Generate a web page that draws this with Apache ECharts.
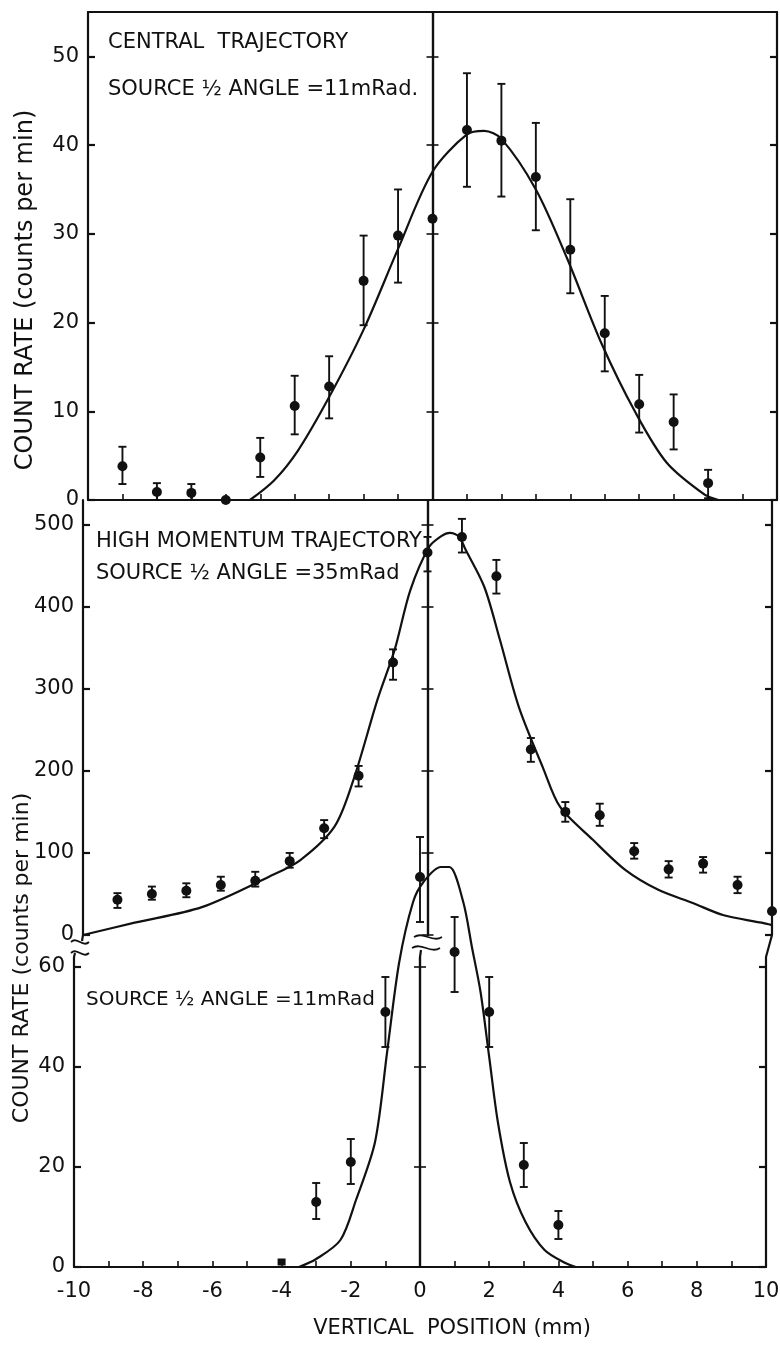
<!DOCTYPE html>
<html>
<head>
<meta charset="utf-8">
<script src="https://cdn.jsdelivr.net/npm/echarts@6/dist/echarts.min.js"></script>
<style>
  html, body { margin: 0; padding: 0; background: #fff; }
  #chart { width: 780px; height: 1349px; }
</style>
</head>
<body>
<div id="chart"></div>
<script>
// ---- tick values ----
const unitTicks = [-10,-9,-8,-7,-6,-5,-4,-3,-2,-1,0,1,2,3,4,5,6,7,8,9,10];
const positionLabels = [-10,-8,-6,-4,-2,0,2,4,6,8,10];
const centralTicks = [0,10,20,30,40,50];
const highTicks = [0,100,200,300,400,500];
const narrowTicks = [0,20,40,60];

// ---- central trajectory, source 1/2 angle 11 mRad ----
const centralX    = [-9,-8,-7,-6,-5,-4,-3,-2,-1,0,1,2,3,4,5,6,7,8];
const centralRate = [3.8,0.9,0.8,0,4.8,10.6,12.8,24.7,29.8,31.7,41.7,40.5,36.4,28.2,18.8,10.8,8.8,1.9];
const centralLow  = [1.8,0,0,null,2.6,7.4,9.2,19.7,24.5,null,35.3,34.2,30.4,23.3,14.5,7.6,5.7,0.2];
const centralHigh = [6.0,1.9,1.8,null,7.0,14.0,16.2,29.8,35.0,null,48.1,46.9,42.5,33.9,23.0,14.1,11.9,3.4];
const centralFitX = [-5.3,-4.6,-3.9,-3.0,-2.0,-1.0,0.0,1.0,1.5,2.0,3.0,3.9,4.9,5.9,6.8,7.9,8.3];
const centralFitY = [0,2.2,5.6,11.6,19.2,28.3,37.0,41.2,41.6,40.7,35.0,27.3,17.7,9.8,4.2,0.6,0];

// ---- high momentum trajectory, source 1/2 angle 35 mRad ----
const highX    = [-9,-8,-7,-6,-5,-4,-3,-2,-1,0,1,2,3,4,5,6,7,8,9,10];
const highRate = [43,50,54,61,66,90,130,194,332,466,485,437,226,150,146,102,80,87,61,29];
const highLow  = [33,43,46,54,59,82,118,181,311,443,466,416,211,138,133,93,70,76,51,null];
const highHigh = [51,59,63,71,77,100,140,206,348,485,507,457,240,162,160,112,90,95,71,null];
const highFitX = [-10,-8.5,-6.55,-4.6,-3.7,-2.7,-2.15,-1.45,-0.95,-0.5,0.05,0.4,0.65,0.92,1.1,1.65,2.1,2.65,3.35,3.85,4.8,5.75,6.7,7.7,8.6,9.7,10];
const highFitY = [0,15,34,71,91,132,189,287,348,420,473,486,490,485,470,424,360,278,204,156,116,79,55,39,24,15,12];

// ---- high momentum trajectory, source 1/2 angle 11 mRad ----
const narrowX     = [-4,-3,-2,-1,0,1,2,3,4];
const narrowRate  = [1,13,21,51,78,63,51,20.4,8.4];
const narrowLow   = [null,9.6,16.6,44,69,55,44,16,5.6];
const narrowHigh  = [null,16.8,25.6,58,86,70,58,24.8,11.2];
const narrowShape = ['rect','circle','circle','circle','circle','circle','circle','circle','circle'];
const narrowFitX  = [-3.5,-3.0,-2.3,-1.85,-1.3,-0.95,-0.6,-0.2,0.1,0.6,0.85,1.25,1.5,1.75,2.0,2.25,2.6,3.05,3.6,4.2,4.5];
const narrowFitY  = [0,1.6,5.4,13.4,25,43,61,73,77,80,80,73,64,55,42,29,17,9,3.4,0.8,0];

const INK = '#111';
const FONT = '"DejaVu Sans", "Liberation Sans", sans-serif';

const grids = [
  { left: 88, top: 12,  width: 689, height: 488 },
  { left: 83, top: 500, width: 689, height: 435 },
  { left: 74, top: 957, width: 692, height: 310 }
];
const yRanges = [[0, 55, centralTicks], [0, 530, highTicks], [0, 62, narrowTicks]];

const lineStyle = { color: INK, width: 2.2 };

// four y axes per panel: labelled left frame, right frame, and the x = 0 line (ticks both ways)
const yAxes = [];
grids.forEach((g, gi) => {
  const [mn, mx, ticks] = yRanges[gi];
  const base = {
    gridIndex: gi, type: 'value', min: mn, max: mx,
    splitLine: { show: false },
    axisLine: { show: true, onZero: false, lineStyle }
  };
  yAxes.push(Object.assign({}, base, {
    position: 'left',
    axisTick: { show: true, inside: true, length: 7, customValues: ticks, lineStyle },
    axisLabel: { show: true, customValues: ticks, margin: 9, color: INK, fontSize: 21, fontFamily: FONT }
  }));
  yAxes.push(Object.assign({}, base, {
    position: 'right',
    axisTick: { show: true, inside: true, length: 7, customValues: ticks, lineStyle },
    axisLabel: { show: false }
  }));
  yAxes.push(Object.assign({}, base, {
    position: 'left', offset: -g.width / 2,
    axisTick: { show: true, inside: true, length: 6, customValues: ticks, lineStyle: { color: INK, width: 1.6 } },
    axisLabel: { show: false }
  }));
  yAxes.push(Object.assign({}, base, {
    position: 'left', offset: -g.width / 2,
    axisTick: { show: true, inside: false, length: 6, customValues: ticks, lineStyle: { color: INK, width: 1.6 } },
    axisLabel: { show: false }
  }));
});

const xBase = { type: 'value', min: -10, max: 10, splitLine: { show: false } };
const xAxes = [
  Object.assign({}, xBase, {
    gridIndex: 0, position: 'bottom',
    axisLine: { show: true, onZero: false, lineStyle },
    axisTick: { show: true, inside: true, length: 6, customValues: unitTicks, lineStyle: { color: INK, width: 1.6 } },
    axisLabel: { show: false }
  }),
  Object.assign({}, xBase, {
    gridIndex: 0, position: 'top',
    axisLine: { show: true, onZero: false, lineStyle },
    axisTick: { show: false }, axisLabel: { show: false }
  }),
  Object.assign({}, xBase, { gridIndex: 1, show: false }),
  Object.assign({}, xBase, {
    gridIndex: 2, position: 'bottom',
    axisLine: { show: true, onZero: false, lineStyle },
    axisTick: { show: true, inside: true, length: 6, customValues: unitTicks, lineStyle: { color: INK, width: 1.6 } },
    axisLabel: { show: true, customValues: positionLabels, margin: 14, color: INK, fontSize: 21, fontFamily: FONT }
  })
];

function pairs(xs, ys) { return xs.map((x, i) => [x, ys[i]]); }

function errorBars(xs, lows, highs, xi, yi) {
  const data = [];
  xs.forEach((x, i) => {
    if (lows[i] != null && highs[i] != null) data.push([x, lows[i], highs[i]]);
  });
  return {
    type: 'custom', xAxisIndex: xi, yAxisIndex: yi, data, clip: false, silent: true, z: 3,
    encode: { x: 0, y: [1, 2] },
    renderItem(params, api) {
      const x = api.value(0);
      const lo = api.coord([x, api.value(1)]);
      const hi = api.coord([x, api.value(2)]);
      const c = 4;
      const st = { stroke: INK, lineWidth: 1.9 };
      return {
        type: 'group',
        children: [
          { type: 'line', shape: { x1: lo[0], y1: lo[1], x2: hi[0], y2: hi[1] }, style: st },
          { type: 'line', shape: { x1: lo[0] - c, y1: lo[1], x2: lo[0] + c, y2: lo[1] }, style: st },
          { type: 'line', shape: { x1: hi[0] - c, y1: hi[1], x2: hi[0] + c, y2: hi[1] }, style: st }
        ]
      };
    }
  };
}

function points(xs, ys, xi, yi, shapes) {
  return {
    type: 'scatter', xAxisIndex: xi, yAxisIndex: yi, clip: false, silent: true, z: 4,
    data: xs.map((x, i) => ({
      value: [x, ys[i]],
      symbol: shapes ? shapes[i] : 'circle',
      symbolSize: shapes && shapes[i] === 'rect' ? [8, 7] : 10
    })),
    itemStyle: { color: INK, opacity: 1 }
  };
}

function fit(xs, ys, xi, yi) {
  return {
    type: 'line', xAxisIndex: xi, yAxisIndex: yi, data: pairs(xs, ys),
    smooth: 0.3, showSymbol: false, clip: false, silent: true, z: 2,
    lineStyle: { color: INK, width: 2.2 }
  };
}

function wave(cx, cy, w) {
  return {
    type: 'bezierCurve',
    shape: { x1: cx - w / 2, y1: cy, x2: cx + w / 2, y2: cy, cpx1: cx - w / 6, cpy1: cy - 6, cpx2: cx + w / 6, cpy2: cy + 6 },
    style: { stroke: INK, lineWidth: 1.8, fill: null }
  };
}
function seg(x1, y1, x2, y2) {
  return { type: 'line', shape: { x1, y1, x2, y2 }, style: { stroke: INK, lineWidth: 2.2 } };
}
function label(text, x, y, size, align) {
  return {
    type: 'text', x, y,
    style: { text, fill: INK, font: size + 'px ' + FONT, align: align || 'left', verticalAlign: 'middle' }
  };
}

const option = {
  animation: false,
  backgroundColor: '#fff',
  grid: grids.map(g => Object.assign({ containLabel: false, outerBoundsMode: 'none' }, g)),
  xAxis: xAxes,
  yAxis: yAxes,
  series: [
    fit(centralFitX, centralFitY, 0, 0),
    errorBars(centralX, centralLow, centralHigh, 0, 0),
    points(centralX, centralRate, 0, 0),

    fit(highFitX, highFitY, 2, 4),
    errorBars(highX, highLow, highHigh, 2, 4),
    points(highX, highRate, 2, 4),

    fit(narrowFitX, narrowFitY, 3, 8),
    errorBars(narrowX, narrowLow, narrowHigh, 3, 8),
    points(narrowX, narrowRate, 3, 8, narrowShape)
  ],
  graphic: [
    label('CENTRAL  TRAJECTORY', 108, 43, 21),
    label('SOURCE \u00BD ANGLE =11mRad.', 108, 90, 21),
    label('HIGH MOMENTUM TRAJECTORY', 96, 542, 21),
    label('SOURCE \u00BD ANGLE =35mRad', 96, 574, 21),
    label('SOURCE \u00BD ANGLE =11mRad', 86, 1000, 20),
    label('VERTICAL  POSITION (mm)', 452, 1329, 21, 'center'),
    {
      type: 'text', x: 26, y: 290, rotation: Math.PI / 2,
      style: { text: 'COUNT RATE (counts per min)', fill: INK, font: '24px ' + FONT, align: 'center', verticalAlign: 'middle' }
    },
    {
      type: 'text', x: 22, y: 958, rotation: Math.PI / 2,
      style: { text: 'COUNT RATE (counts per min)', fill: INK, font: '22px ' + FONT, align: 'center', verticalAlign: 'middle' }
    },
    // broken axis between the two lower panels
    seg(83, 935, 82, 941), seg(75, 953, 74, 957),
    wave(80, 942, 18), wave(80, 953, 18),
    wave(428, 937, 28), wave(426, 948, 28),
    seg(421, 950, 420, 957),
    seg(772, 935, 766, 957)
  ]
};

const chart = echarts.init(document.getElementById('chart'));
chart.setOption(option);
</script>
</body>
</html>
